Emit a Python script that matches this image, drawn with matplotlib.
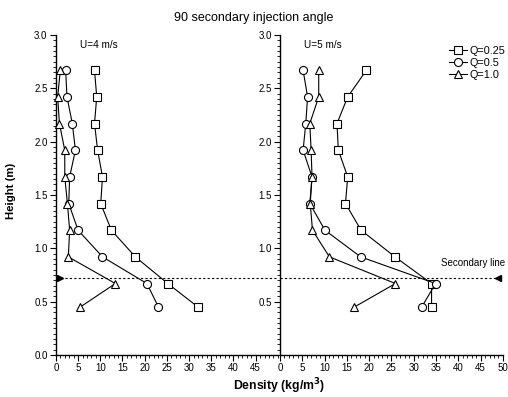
import matplotlib
matplotlib.use("Agg")
import matplotlib.pyplot as plt
from matplotlib.ticker import MultipleLocator, FixedLocator

plt.rcParams['font.family'] = ['Liberation Sans', 'DejaVu Sans']

heights = [2.67, 2.42, 2.17, 1.92, 1.67, 1.42, 1.17, 0.92, 0.67, 0.45]

# U = 4 m/s
u4_q025 = [8.7, 9.2, 8.7, 9.4, 10.5, 10.1, 12.5, 17.9, 25.2, 32.0]
u4_q05 = [2.2, 2.5, 3.7, 4.4, 3.1, 2.9, 5.0, 10.5, 20.5, 23.1]
u4_q10 = [1.0, 0.4, 0.8, 2.0, 2.0, 2.6, 3.1, 2.8, 13.4, 5.5]

# U = 5 m/s
u5_q025 = [19.4, 15.2, 12.8, 13.1, 15.2, 14.7, 18.2, 25.8, 34.0, 34.0]
u5_q05 = [5.2, 6.2, 5.8, 5.2, 7.2, 6.7, 10.1, 18.1, 34.9, 31.8]
u5_q10 = [8.7, 8.7, 6.7, 7.0, 7.2, 6.8, 7.3, 11.1, 25.9, 16.7]

series_labels = ["Q=0.25", "Q=0.5", "Q=1.0"]
markers = ["s", "o", "^"]
secondary_height = 0.72

fig = plt.figure(figsize=(5.08, 3.97), dpi=100)
axL = fig.add_axes([0.110, 0.1058, 0.437, 0.806])
axR = fig.add_axes([0.551, 0.1058, 0.439, 0.806])

msizes = {"s": 5.2, "o": 5.8, "^": 6.0}

for ax, data, title, xticks, yticks in [
    (axL, [u4_q025, u4_q05, u4_q10], "U=4 m/s", list(range(0, 50, 5)), [0.0, 0.5, 1.0, 1.5, 2.0, 2.5, 3.0]),
    (axR, [u5_q025, u5_q05, u5_q10], "U=5 m/s", list(range(0, 55, 5)), [0.5, 1.0, 1.5, 2.0, 2.5, 3.0]),
]:
    for vals, m, lab in zip(data, markers, series_labels):
        ax.plot(vals, heights, color='black', lw=0.8, marker=m, ms=msizes[m],
                mfc='white', mec='black', mew=0.8, label=lab, clip_on=False, zorder=3)
    ax.set_xlim(0, 50)
    ax.set_ylim(0, 3.0)
    ax.spines['top'].set_visible(False)
    ax.spines['right'].set_visible(False)
    ax.spines['left'].set_linewidth(1.0)
    ax.spines['bottom'].set_linewidth(1.0)
    ax.xaxis.set_major_locator(FixedLocator(xticks))
    ax.yaxis.set_major_locator(FixedLocator(yticks))
    ax.xaxis.set_minor_locator(MultipleLocator(1))
    ax.yaxis.set_minor_locator(MultipleLocator(0.05))
    ax.tick_params(which='major', direction='out', length=4, width=0.8, labelsize=7, pad=2)
    ax.tick_params(which='minor', direction='out', length=2, width=0.6)
    ax.yaxis.set_major_formatter(matplotlib.ticker.FormatStrFormatter('%.1f'))
    ax.text(0.11, 0.985, title, transform=ax.transAxes, fontsize=7.2, ha='left', va='top')

# Secondary line
axL.plot([0, 50], [secondary_height] * 2, color='black', lw=0.8, ls=(0, (2, 2)), clip_on=False, zorder=2)
axR.plot([0, 49.5], [secondary_height] * 2, color='black', lw=0.8, ls=(0, (2, 2)), clip_on=False, zorder=2)
axL.plot([0.9], [secondary_height], marker='>', color='black', ms=5, clip_on=False, zorder=4)
axR.plot([49.0], [secondary_height], marker='<', color='black', ms=5, clip_on=False, zorder=4)
axR.text(50.5, secondary_height + 0.14, "Secondary line", fontsize=7, ha='right', va='center')

leg = axR.legend(loc='upper right', bbox_to_anchor=(1.045, 0.99), frameon=False, fontsize=7.8,
                 handlelength=1.7, handletextpad=0.2, labelspacing=0.2, borderpad=0.2)

fig.text(0.50, 0.955, "90 secondary injection angle", fontsize=9, ha='center', va='center')
fig.text(0.55, 0.028, "Density (kg/m$^\\mathbf{3}$)", fontsize=8.8, fontweight='bold', ha='center', va='center')
fig.text(0.022, 0.52, "Height (m)", fontsize=8.2, fontweight='bold', ha='center', va='center', rotation=90)

fig.savefig("out.png", dpi=100)
